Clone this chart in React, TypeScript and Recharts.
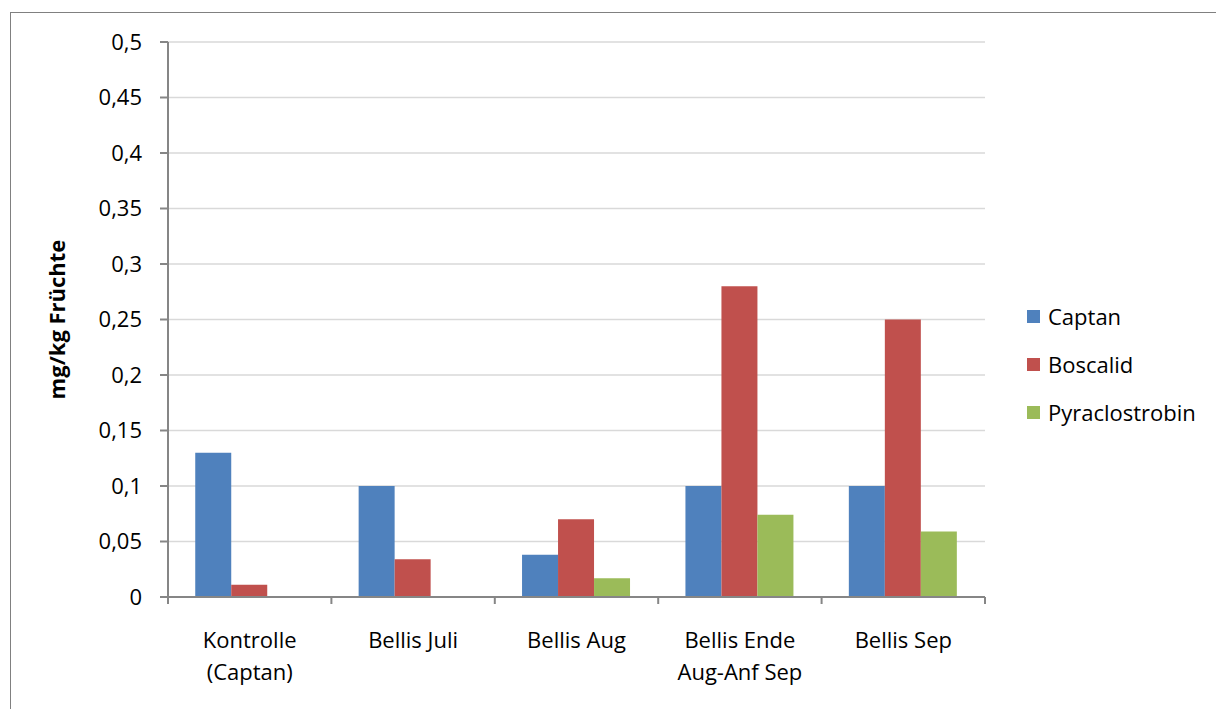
import { BarChart, Bar, XAxis, YAxis, CartesianGrid, Legend } from 'recharts';

// Kategorien (Zeilenumbruch mit \n)
const categories = ['Kontrolle\n(Captan)', 'Bellis Juli', 'Bellis Aug', 'Bellis Ende\nAug-Anf Sep', 'Bellis Sep'];

const captan = [0.13, 0.1, 0.038, 0.1, 0.1];
const boscalid = [0.011, 0.034, 0.07, 0.28, 0.25];
const pyraclostrobin = [0, 0, 0.017, 0.074, 0.059];

const yTicks = [0, 0.05, 0.1, 0.15, 0.2, 0.25, 0.3, 0.35, 0.4, 0.45, 0.5];

const series = [
  { key: 'captan', name: 'Captan', color: '#4F81BD' },
  { key: 'boscalid', name: 'Boscalid', color: '#C0504D' },
  { key: 'pyraclostrobin', name: 'Pyraclostrobin', color: '#9BBB59' },
];

const data = categories.map((name, i) => ({
  name,
  captan: captan[i],
  boscalid: boscalid[i],
  pyraclostrobin: pyraclostrobin[i],
}));

const FONT = '"Open Sans", sans-serif';
const AXIS = '#868686';

// Label + Teilstriche an den Kategoriegrenzen
function CategoryTick({ x, y, payload, index, visibleTicksCount }: any) {
  const lines = String(payload.value).split('\n');
  const half = payload.offset || 0;
  const isLast = index === visibleTicksCount - 1;
  return (
    <g>
      {half > 0 && <line x1={x - half} x2={x - half} y1={y} y2={y + 7} stroke={AXIS} strokeWidth={2} />}
      {half > 0 && isLast && <line x1={x + half} x2={x + half} y1={y} y2={y + 7} stroke={AXIS} strokeWidth={2} />}
      <text x={x} y={y} textAnchor="middle" fontFamily={FONT} fontSize={22} fill="#000">
        {lines.map((line, i) => (
          <tspan key={i} x={x} dy={i === 0 ? 51 : 32}>
            {line}
          </tspan>
        ))}
      </text>
    </g>
  );
}

function YTitle({ viewBox }: any) {
  const cy = viewBox.y + viewBox.height / 2;
  return (
    <text
      x={65}
      y={cy}
      textAnchor="middle"
      fontFamily={FONT}
      fontSize={22}
      fontWeight="bold"
      fill="#000"
      transform={`rotate(-90 65 ${cy})`}
    >
      mg/kg Früchte
    </text>
  );
}

function LegendBox() {
  return (
    <div style={{ fontFamily: FONT, fontSize: 22, color: '#000' }}>
      {series.map((s) => (
        <div key={s.key} style={{ display: 'flex', alignItems: 'center', height: 48 }}>
          <span style={{ width: 13, height: 13, background: s.color, display: 'inline-block' }} />
          <span style={{ marginLeft: 8, lineHeight: '24px' }}>{s.name}</span>
        </div>
      ))}
    </div>
  );
}

export default function App() {
  return (
    <div style={{ position: 'absolute', left: 0, top: 0, width: 1216, height: 709, overflow: 'hidden', background: '#fff' }}>
      <div
        style={{
          position: 'absolute',
          left: 10,
          top: 12,
          width: 1260,
          height: 760,
          border: '1px solid #808080',
        }}
      />
      <div style={{ position: 'absolute', left: 0, top: 0 }}>
        <BarChart
          width={1216}
          height={709}
          data={data}
          margin={{ top: 42, right: 231, bottom: 111, left: 0 }}
          barCategoryGap="16.67%"
          barGap={0}
        >
          <CartesianGrid vertical={false} stroke="#D9D9D9" strokeWidth={1.5} />
          <XAxis
            dataKey="name"
            height={1}
            tickLine={false}
            tickSize={0}
            tickMargin={0}
            interval={0}
            axisLine={{ stroke: AXIS, strokeWidth: 2 }}
            tick={<CategoryTick />}
          />
          <YAxis
            width={168}
            domain={[0, 0.5]}
            ticks={yTicks}
            interval={0}
            tickSize={8}
            tickMargin={18}
            axisLine={{ stroke: AXIS, strokeWidth: 2 }}
            tickLine={{ stroke: AXIS, strokeWidth: 2 }}
            tick={{ fontFamily: FONT, fontSize: 22, fill: '#000' }}
            tickFormatter={(v: number) => String(v).replace('.', ',')}
            label={<YTitle />}
          />
          <Legend
            layout="vertical"
            align="center"
            verticalAlign="middle"
            content={<LegendBox />}
            wrapperStyle={{ left: 1027, top: 292, width: 190 }}
          />
          {series.map((s) => (
            <Bar
              key={s.key}
              dataKey={s.key}
              name={s.name}
              fill={s.color}
              isAnimationActive={false}
            />
          ))}
        </BarChart>
      </div>
    </div>
  );
}
